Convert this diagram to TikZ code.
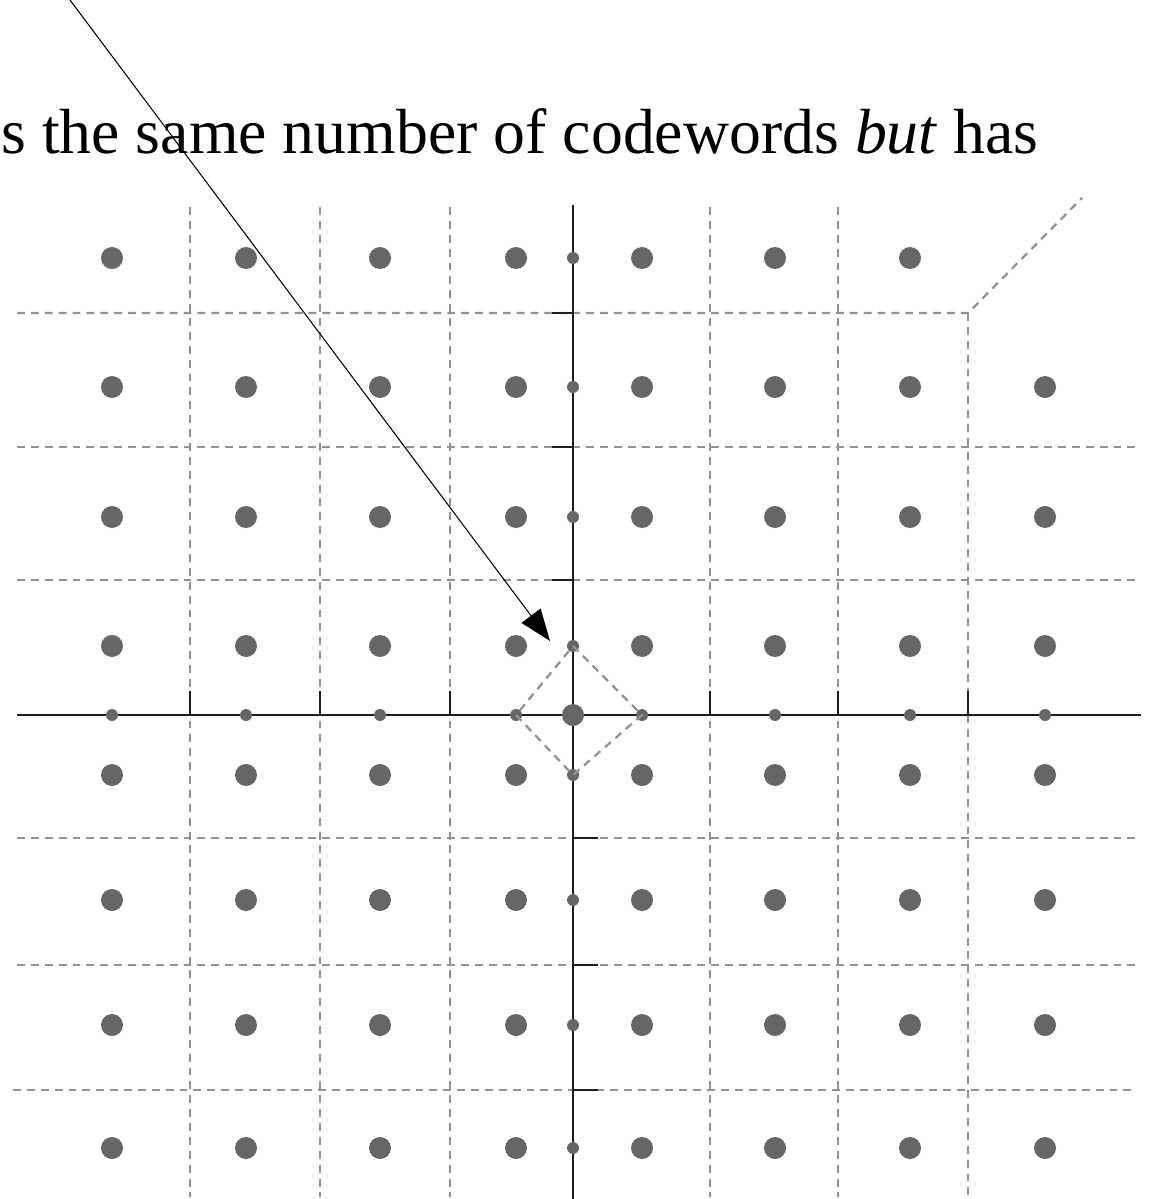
\documentclass[tikz,border=0pt]{standalone}
\usepackage{fontspec}
\setmainfont{Liberation Serif}
\usetikzlibrary{arrows.meta}
\definecolor{dotcol}{HTML}{666666}
\definecolor{gridcol}{HTML}{929292}
\definecolor{axiscol}{HTML}{1E1E1E}

\begin{document}
\begin{tikzpicture}[
    x=0.02cm, y=-0.02cm,
    gridline/.style={gridcol, line width=1.3pt, dash pattern=on 4.5pt off 3.4pt},
    axisline/.style={axiscol, line width=1.2pt},
    tickline/.style={axiscol, line width=1.2pt},
    arr/.style={-{Triangle[length=18pt, width=13.5pt]}, line width=0.6pt, color=black},
    caption/.style={font=\fontsize{36.3}{42}\selectfont, inner sep=0pt, anchor=base west},
]
\useasboundingbox (0,0) rectangle (1150,1199);
\def\bigr{0.22cm}
\def\smallr{0.12cm}

% ---------------- dashed cell borders
\foreach \gx in {190,320,450,710,838}{
    \draw[gridline] (\gx,207) -- (\gx,1197);
}
\draw[gridline] (968,313) -- (968,1197);
\draw[gridline] (17,313) -- (968,313) -- (1082,198);
\foreach \gy in {447,580,838,965}{
    \draw[gridline] (17,\gy) -- (1140,\gy);
}
\draw[gridline] (13,1090) -- (1135,1090);

% ---------------- axes and ticks
\draw[axisline] (17,715) -- (1141,715);
\draw[axisline] (573,205) -- (573,1199);
\foreach \gx in {190,320,450,710,838,968}{
    \draw[tickline] (\gx,715) -- (\gx,691);
}
\foreach \gy in {313,447,580}{
    \draw[tickline] (552,\gy) -- (573,\gy);
}
\foreach \gy in {838,965,1090}{
    \draw[tickline] (573,\gy) -- (598,\gy);
}

% ---------------- codewords
\foreach \cy in {387,517,646,775,900,1025,1148}{
    \foreach \cx in {112,246,380,516,642,775,910,1045}{
        \fill[dotcol] (\cx,\cy) circle (\bigr);
    }
}
\foreach \cx in {112,246,380,516,642,775,910}{
    \fill[dotcol] (\cx,258) circle (\bigr);
}
\foreach \cy in {258,387,517,646,775,900,1025,1148}{
    \fill[dotcol] (573,\cy) circle (\smallr);
}
\foreach \cx in {112,246,380,516,642,775,910,1045}{
    \fill[dotcol] (\cx,715) circle (\smallr);
}
\fill[dotcol] (573,715) circle (\bigr);

% ---------------- diamond round the origin
\coordinate (dtop) at (573,646);
\coordinate (dright) at (642,715);
\coordinate (dbottom) at (573,775);
\coordinate (dleft) at (516,715);
\draw[gridline] (dtop) -- (dright) -- (dbottom) -- (dleft) -- cycle;

% ---------------- caption and pointer
\node[caption] (title) at (1,154) {s the same number of codewords \textit{but} has};
\coordinate (arrtail) at (70,0);
\coordinate (arrtip) at (550,641);
\draw[arr] (arrtail) -- (arrtip);
\end{tikzpicture}
\end{document}
